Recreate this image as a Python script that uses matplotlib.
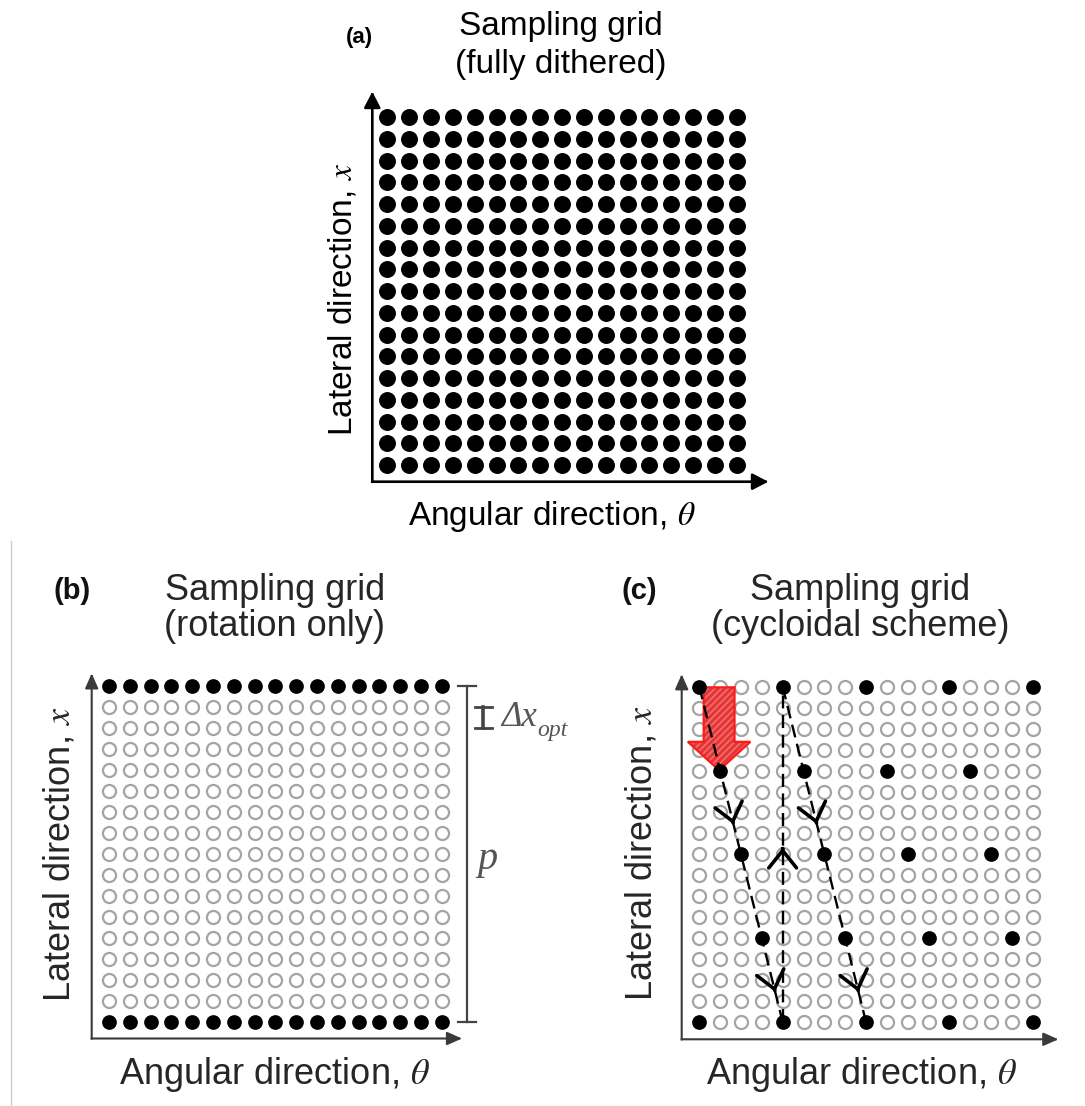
import numpy as np
import matplotlib
matplotlib.use("Agg")
import matplotlib.pyplot as plt
from matplotlib.patches import FancyArrow, FancyArrowPatch
from matplotlib.lines import Line2D

plt.rcParams['font.family'] = ['Liberation Sans', 'DejaVu Sans']
plt.rcParams['mathtext.fontset'] = 'stix'
plt.rcParams['hatch.linewidth'] = 2.0

# ---------------- data ----------------
n_cols = 17                      # angular positions
n_rows = 17                      # lateral positions
col_idx = np.arange(n_cols)
row_idx = np.arange(n_rows)

rotation_rows = [0, 16]          # rows sampled in (b)

# (c) cycloidal scheme: sampled (column, row-from-top) points
cyc_cols = [0, 4, 8, 12, 16, 1, 5, 9, 13, 2, 6, 10, 14, 3, 7, 11, 15, 0, 4, 8, 12, 16]
cyc_rows = [0, 0, 0, 0, 0, 4, 4, 4, 4, 8, 8, 8, 8, 12, 12, 12, 12, 16, 16, 16, 16, 16]

# (c) trajectory segments
path_start_cols = [0, 4, 4]
path_start_rows = [0, 16, 0]
path_end_cols = [4, 4, 8]
path_end_rows = [16, 0, 16]
path_arrow_fracs = [[0.41, 0.91], [0.52], [0.41, 0.91]]

panel_labels = ['(a)', '(b)', '(c)']
title_line1 = ['Sampling grid', 'Sampling grid', 'Sampling grid']
title_line2 = ['(fully dithered)', '(rotation only)', '(cycloidal scheme)']
xlabel = r'Angular direction, $\theta$'
ylabel = r'Lateral direction, $x$'

# ---------------- layout (pixels) ----------------
W, H = 1085, 1106
fig = plt.figure(figsize=(W / 100, H / 100), dpi=100)


def fx(px):
    return px / W


def fy(py):
    return 1 - py / H


def make_ax(left, top, right, bottom, x0, dx, y0, dy):
    ax = fig.add_axes([fx(left), fy(bottom), (right - left) / W, (bottom - top) / H])
    ax.set_xlim((left - x0) / dx, (right - x0) / dx)
    ax.set_ylim((bottom - y0) / dy, (top - y0) / dy)
    ax.axis('off')
    return ax


def axis_arrows(ax, color, lw, hl, hw):
    style = f'-|>,head_length={hl},head_width={hw}'
    for end in [(0, 1), (1, 0)]:
        ax.annotate('', xy=end, xytext=(0, 0), xycoords='axes fraction',
                    arrowprops=dict(arrowstyle=style, color=color, lw=lw,
                                    shrinkA=0, shrinkB=0, mutation_scale=10,
                                    capstyle='projecting'),
                    annotation_clip=False)


CC, RR = np.meshgrid(col_idx, row_idx)
open_color = '#a4a4a4'
dark = '#3a3a3a'
txt = '#262626'

# ---------------- panel (a) ----------------
axa = make_ax(372.3, 91.7, 768.3, 481.7, 387.3, 21.84, 117.3, 21.73)
axa.plot(CC.ravel(), RR.ravel(), 'o', color='black', markersize=12.2, mew=0, zorder=3)
axis_arrows(axa, 'black', 1.9, 0.96, 0.5)
fig.text(fx(359), fy(38), panel_labels[0], fontsize=16, fontweight='bold', ha='center', va='center')
fig.text(fx(561), fy(27), title_line1[0], fontsize=24, ha='center', va='center')
fig.text(fx(561), fy(64), title_line2[0], fontsize=24, ha='center', va='center')
fig.text(fx(552), fy(516), xlabel, fontsize=24, ha='center', va='center')
fig.text(fx(343), fy(300), ylabel, fontsize=24, ha='center', va='center', rotation=90)

# ---------------- panel (b) ----------------
axb = make_ax(91.7, 673.4, 462.0, 1038.5, 109.0, 20.8, 686.0, 21.0)
filled_b = np.isin(RR, rotation_rows)
axb.plot(CC[~filled_b], RR[~filled_b], 'o', mfc='none', mec=open_color, markersize=9.4, mew=1.6, zorder=2)
axb.plot(CC[filled_b], RR[filled_b], 'o', color='black', markersize=10.6, mew=0, zorder=3)
axis_arrows(axb, dark, 1.5, 0.9, 0.4)
# bracket p
bx = 17.2
axb.plot([bx, bx], [rotation_rows[0], rotation_rows[1]], color='#444444', lw=1.6, clip_on=False)
for r in rotation_rows:
    axb.plot([bx - 0.44, bx + 0.44], [r, r], color='#444444', lw=1.6, clip_on=False)
# small bar for the optimal lateral step
ix = 17.99
axb.plot([ix, ix], [1, 2], color='#444444', lw=2.6, clip_on=False)
for r in [1, 2]:
    axb.plot([ix - 0.4, ix + 0.4], [r, r], color='#444444', lw=2.0, clip_on=False)
dx_txt = axb.text(18.85, 1.5, 'Δx', fontsize=25, color='#555555', ha='left', va='center',
                  family=['Liberation Serif', 'DejaVu Serif'], style='italic')
axb.annotate('opt', xy=(1.0, 0.12), xycoords=dx_txt, fontsize=17, color='#555555',
             ha='left', va='center', family=['Liberation Serif', 'DejaVu Serif'], style='italic',
             annotation_clip=False)
axb.text(17.72, 8.25, 'p', fontsize=29, color='#555555', ha='left', va='center',
         family=['Liberation Serif', 'DejaVu Serif'], style='italic')
fig.text(fx(72), fy(591), panel_labels[1], fontsize=21, fontweight='bold', ha='center', va='center', color='#111111')
fig.text(fx(275), fy(590), title_line1[1], fontsize=26, ha='center', va='center', color=txt)
fig.text(fx(275), fy(626), title_line2[1], fontsize=26, ha='center', va='center', color=txt)
fig.text(fx(275), fy(1074), xlabel, fontsize=26, ha='center', va='center', color=txt)
fig.text(fx(60), fy(854), ylabel, fontsize=26, ha='center', va='center', rotation=90, color=txt)

# ---------------- panel (c) ----------------
axc = make_ax(681.7, 674.3, 1058.3, 1039.3, 699.3, 20.84, 686.7, 20.96)
filled_c = np.zeros_like(CC, dtype=bool)
filled_c[cyc_rows, cyc_cols] = True
axc.plot(CC[~filled_c], RR[~filled_c], 'o', mfc='none', mec=open_color, markersize=9.4, mew=1.6, zorder=2)
axc.plot(cyc_cols, cyc_rows, 'o', color='black', markersize=10.6, mew=0, zorder=5)
axis_arrows(axc, dark, 1.5, 0.9, 0.4)

# red block arrow
arrow_kw = dict(width=1.48, head_width=3.0, head_length=1.36, length_includes_head=True)
red_fill = FancyArrow(0.95, 0.03, 0, 3.96, facecolor='#f36868', edgecolor='#e23434',
                      hatch='/////', lw=0, zorder=3, **arrow_kw)
red_edge = FancyArrow(0.95, 0.03, 0, 3.96, facecolor='none', edgecolor='#ff1a1a',
                      lw=1.6, zorder=3.1, **arrow_kw)
axc.add_patch(red_fill)
axc.add_patch(red_edge)

for c0, r0, c1, r1, fracs in zip(path_start_cols, path_start_rows, path_end_cols, path_end_rows, path_arrow_fracs):
    axc.plot([c0, c1], [r0, r1], color='black', lw=1.7, dashes=(5.5, 2.8), zorder=4)
    for f in fracs:
        pb = (c0 + f * (c1 - c0), r0 + f * (r1 - r0))
        pa = (c0 + (f - 0.004) * (c1 - c0), r0 + (f - 0.004) * (r1 - r0))
        arr = FancyArrowPatch(pa, pb, arrowstyle='->,head_length=1.25,head_width=1.0',
                              mutation_scale=10, color='black', lw=2.6,
                              shrinkA=0, shrinkB=0, zorder=6)
        axc.add_patch(arr)

fig.text(fx(639), fy(591), panel_labels[2], fontsize=21, fontweight='bold', ha='center', va='center', color='#111111')
fig.text(fx(860), fy(590), title_line1[2], fontsize=26, ha='center', va='center', color=txt)
fig.text(fx(860), fy(626), title_line2[2], fontsize=26, ha='center', va='center', color=txt)
fig.text(fx(862), fy(1074), xlabel, fontsize=26, ha='center', va='center', color=txt)
fig.text(fx(642), fy(853), ylabel, fontsize=26, ha='center', va='center', rotation=90, color=txt)

# thin frame line at left of the lower part
fig.add_artist(Line2D([fx(11), fx(11)], [fy(541), 0], color='#cccccc', lw=1))

fig.savefig('out.png', dpi=100)
